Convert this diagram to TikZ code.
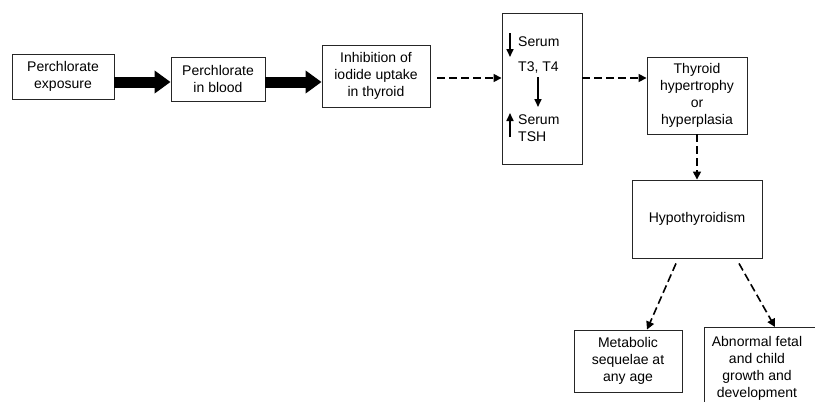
\documentclass[tikz,border=0pt]{standalone}
\usepackage{fontspec}
\setmainfont{Liberation Sans}
\usetikzlibrary{arrows.meta}
\begin{document}
\begin{tikzpicture}[x=1pt,y=-1pt,
  box/.style={draw=black!85, line width=0.9pt, align=center, inner sep=0pt, font=\fontsize{14}{17}\selectfont},
  lbl/.style={inner sep=0pt, align=left, font=\fontsize{14}{17}\selectfont},
  fatarrow/.style={line width=11pt, -{Triangle[length=16pt,width=22pt]}},
  dasharrow/.style={line width=1.6pt, dash pattern=on 8pt off 4pt, -{Triangle[length=8pt,width=8pt]}},
  smallarrow/.style={line width=1.6pt, -{Triangle[length=8pt,width=7pt]}}]
\useasboundingbox (0,0) rectangle (815,402);
\clip (0,0) rectangle (815,402);

\node[box, minimum width=102pt, minimum height=45pt] (b1) at (63,76.5) {Perchlorate\\exposure};
\node[box, minimum width=94pt, minimum height=44pt] (b2) at (218,79) {Perchlorate\\in blood};
\node[box, minimum width=108pt, minimum height=62pt] (b3) at (376,76) {Inhibition of\\iodide uptake\\in thyroid};
\node[box, minimum width=80pt, minimum height=151pt] (b4) at (542,88.5) {};
\node[box, minimum width=100pt, minimum height=77pt] (b5) at (697,95.5) {Thyroid\\hypertrophy\\or\\hyperplasia};
\node[box, minimum width=130pt, minimum height=78pt] (b6) at (697,219) {Hypothyroidism};
\node[box, minimum width=108pt, minimum height=62pt] (b7) at (628,361) {Metabolic\\sequelae at\\any age};
\node[lbl, align=center] (b8) at (757,368) {Abnormal fetal\\and child\\growth and\\development};
\coordinate (b8tl) at (704,327);
\draw[draw=black!85, line width=0.9pt] ([yshift=-100pt]b8tl) -- (b8tl) -- ([xshift=130pt]b8tl);

% serum box contents
\node[lbl, anchor=west] (s1) at (518,42) {Serum};
\node[lbl, anchor=west] (s2) at (518,68) {T3, T4};
\node[lbl, anchor=west] (s3) at (518,128) {Serum\\TSH};
\coordinate (a1s) at (510,33); \coordinate (a1e) at (510,57);
\coordinate (a2s) at (538,77); \coordinate (a2e) at (538,107);
\coordinate (a3s) at (510,137); \coordinate (a3e) at (510,113);
\draw[smallarrow] (a1s) -- (a1e);
\draw[smallarrow] (a2s) -- (a2e);
\draw[smallarrow] (a3s) -- (a3e);

% connectors
\coordinate (t1) at ([yshift=-5.5pt]b1.east);
\draw[fatarrow] (t1) -- (t1 -| b2.west);
\coordinate (t2) at (b2.east |- t1);
\draw[fatarrow] (t2) -- (t2 -| b3.west);
\coordinate (d1) at ([xshift=7pt,yshift=-2pt]b3.east);
\draw[dasharrow] (d1) -- (d1 -| b4.west);
\coordinate (d2) at (b4.east |- d1);
\draw[dasharrow] (d2) -- (d2 -| b5.west);
\draw[dasharrow] (b5.south) -- (b6.north);
\draw[dasharrow] ([xshift=-21pt,yshift=-5pt]b6.south) -- ([xshift=19pt]b7.north);
\draw[dasharrow] ([xshift=42pt,yshift=-5pt]b6.south) -- ([xshift=71pt]b8tl);
\end{tikzpicture}
\end{document}
